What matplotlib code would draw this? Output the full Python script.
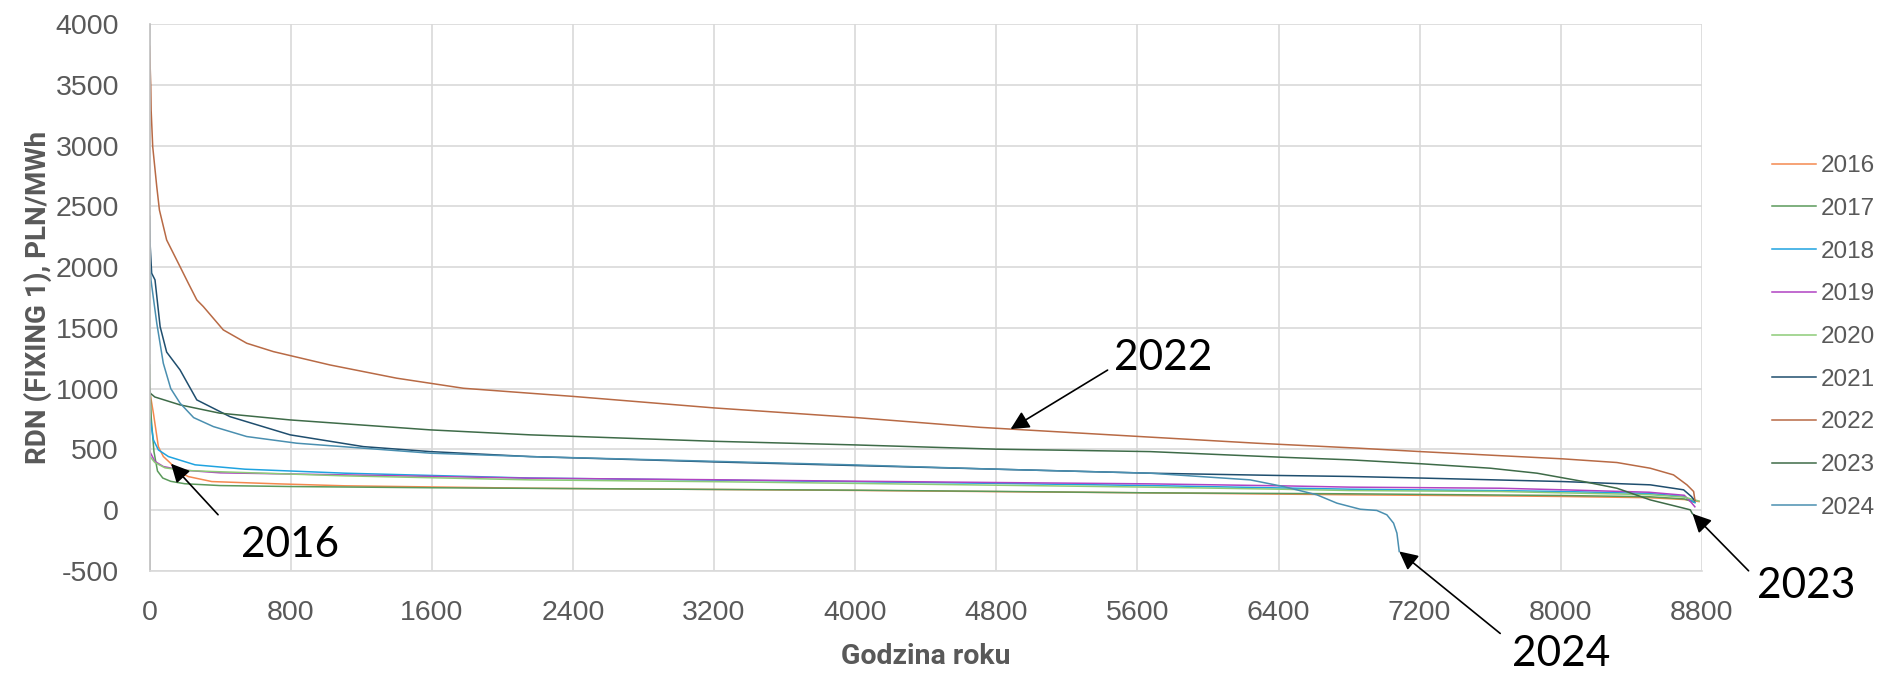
import numpy as np
import matplotlib
matplotlib.use("Agg")
from matplotlib import pyplot as plt

# krzywe uporządkowane cen RDN (fixing 1) dla kolejnych lat
lata = ['2016', '2017', '2018', '2019', '2020', '2021', '2022', '2023', '2024']
kolory = ['#F4894F', '#5B9A5B', '#1FA3E0', '#B043C2', '#8DCB78',
          '#1F4E6E', '#B86A45', '#3E6B48', '#4A8FB0']

h2016 = [0, 3, 22, 50, 78, 122, 145, 220, 353, 730, 1108, 2157, 3200, 4000, 4800, 5672, 6807, 7657, 8013, 8500, 8700, 8784]
c2016 = [990, 961, 796, 521, 440, 380, 329, 274, 233, 214, 198, 178, 168, 160, 150, 140, 124, 115, 110, 100, 85, 68]

h2017 = [0, 3, 10, 25, 45, 75, 120, 200, 400, 800, 1600, 2400, 3200, 4000, 4800, 5672, 6409, 6807, 7657, 8013, 8500, 8700, 8760]
c2017 = [1195, 1000, 750, 480, 320, 262, 235, 215, 200, 192, 182, 175, 168, 162, 152, 140, 135, 132, 122, 118, 108, 90, 60]

h2018 = [0, 3, 22, 50, 107, 258, 541, 1108, 2157, 3200, 4000, 4800, 5672, 6807, 7657, 8013, 8500, 8700, 8760]
c2018 = [760, 755, 577, 494, 439, 371, 335, 302, 262, 245, 232, 218, 200, 170, 158, 151, 135, 110, 60]

h2019 = [0, 5, 30, 78, 173, 400, 1108, 2157, 3200, 4000, 4800, 5672, 6409, 6807, 7657, 8013, 8500, 8700, 8740, 8760]
c2019 = [485, 470, 400, 357, 329, 305, 288, 261, 248, 236, 225, 214, 198, 187, 178, 165, 145, 120, 60, 25]

h2020 = [0, 3, 30, 88, 200, 353, 1108, 2157, 3200, 4000, 4800, 5672, 6409, 6807, 7657, 8013, 8500, 8700, 8784]
c2020 = [445, 439, 390, 346, 325, 316, 280, 247, 232, 218, 203, 187, 170, 159, 151, 140, 125, 105, 72]

h2021 = [0, 3, 12, 31, 60, 97, 173, 268, 456, 797, 1212, 1591, 2157, 3200, 4000, 4800, 5672, 6409, 6807, 7207, 8013, 8507, 8696, 8740, 8760]
c2021 = [2420, 2197, 1950, 1895, 1510, 1300, 1153, 906, 768, 618, 521, 480, 439, 395, 365, 335, 302, 283, 275, 262, 233, 206, 165, 110, 75]

h2022 = [0, 7, 9, 18, 41, 56, 97, 135, 173, 220, 268, 305, 418, 551, 702, 1023, 1401, 1779, 2157, 2400, 3200, 4000, 4708,
         5615, 6277, 6855, 7204, 8013, 8318, 8507, 8639, 8715, 8753, 8760]
c2022 = [3820, 3487, 3295, 2993, 2663, 2471, 2224, 2114, 2004, 1867, 1730, 1675, 1483, 1373, 1304, 1194, 1085, 1002, 961, 935,
         840, 761, 680, 604, 549, 508, 480, 420, 390, 343, 288, 206, 151, 82]

h2023 = [0, 2, 5, 30, 173, 397, 797, 1591, 2157, 3200, 4000, 4800, 5672, 6409, 6807, 7204, 7601, 7865, 8129, 8318, 8507, 8696, 8734, 8745, 8760]
c2023 = [1010, 990, 960, 930, 865, 797, 741, 659, 618, 565, 535, 500, 480, 434, 412, 380, 343, 302, 233, 178, 82, 14, 0, -30, -50]

h2024 = [0, 4, 8, 41, 78, 120, 173, 250, 362, 551, 835, 1591, 2157, 3200, 4000, 4800, 5672, 6239, 6428, 6617, 6731, 6863,
         6957, 7014, 7052, 7071, 7084]
c2024 = [2200, 2000, 1895, 1538, 1208, 1000, 879, 760, 686, 604, 549, 467, 439, 400, 370, 335, 302, 247, 192, 124, 55, 5,
         -5, -41, -110, -192, -343]

godziny = [h2016, h2017, h2018, h2019, h2020, h2021, h2022, h2023, h2024]
ceny = [c2016, c2017, c2018, c2019, c2020, c2021, c2022, c2023, c2024]

x_ticks = np.arange(0, 8801, 800)
y_ticks = np.arange(-500, 4001, 500)

szary = '#595959'
plt.rcParams['font.family'] = ['Liberation Sans', 'DejaVu Sans']
plt.rcParams['axes.unicode_minus'] = False

f = plt.figure(figsize=(18.81, 6.73), dpi=100)
ax = f.add_axes([0.0795, 0.1523, 0.9048 - 0.0795, 0.9636 - 0.1523])

for rok, kol, h, c in zip(lata, kolory, godziny, ceny):
    ax.plot(h, c, '-', color=kol, linewidth=1.1, label=rok)

ax.set_xlim(0, 8800)
ax.set_ylim(-500, 4000)
ax.set_xticks(x_ticks)
ax.set_yticks(y_ticks)
ax.grid(True, color='#D9D9D9', linewidth=1.2)
ax.set_axisbelow(True)
for s in ['top', 'right']:
    ax.spines[s].set_visible(False)
ax.spines['left'].set_color('#BFBFBF')
ax.spines['bottom'].set_color('#D9D9D9')
ax.spines['left'].set_linewidth(1.2)
ax.spines['bottom'].set_linewidth(1.2)
ax.tick_params(axis='both', length=0, labelsize=20.5, labelcolor=szary)
ax.tick_params(axis='y', pad=22)
ax.tick_params(axis='x', pad=21)

# opisy osi - pogrubiona czcionka
f.text(38 / 1881, 1 - 297 / 673, 'RDN (FIXING 1), PLN/MWh', rotation=90, ha='center', va='center',
       fontsize=20, fontweight='bold', color=szary, family=['Roboto', 'DejaVu Sans'])
f.text(926 / 1881, 1 - 657 / 673, 'Godzina roku', ha='center', va='center',
       fontsize=20.5, fontweight='bold', color=szary, family=['Roboto', 'DejaVu Sans'])

leg = ax.legend(loc='center left', bbox_to_anchor=(1772 / 1881, 1 - 337 / 673), bbox_transform=f.transFigure,
                frameon=False, fontsize=17.5, handlelength=1.81, handletextpad=0.2, labelspacing=0.85,
                borderpad=0, borderaxespad=0)
for t in leg.get_texts():
    t.set_color(szary)

# strzałki z podpisami lat
def podpis(rok, h_cel, strzalka, tekst):
    i = lata.index(rok)
    xy = (h_cel, np.interp(h_cel, godziny[i], ceny[i]))
    ax.annotate('', xy=xy, xytext=strzalka, textcoords='offset pixels', annotation_clip=False,
                arrowprops=dict(arrowstyle='-|>', color='black', lw=1.2, mutation_scale=28, shrinkA=0, shrinkB=0))
    ax.annotate(rok, xy=xy, xytext=tekst, textcoords='offset pixels', ha='center', va='center',
                fontsize=30.5, color='black', family=['Lato', 'DejaVu Sans'], annotation_clip=False)

podpis('2016', 122, (47, -51), (119, -81))
podpis('2022', 4881, (97, 59), (153, 71))
podpis('2023', 8747, (56, -57), (114, -72))
podpis('2024', h2024[-1], (101, -82), (162, -103))

f.savefig('out.png', dpi=100)
